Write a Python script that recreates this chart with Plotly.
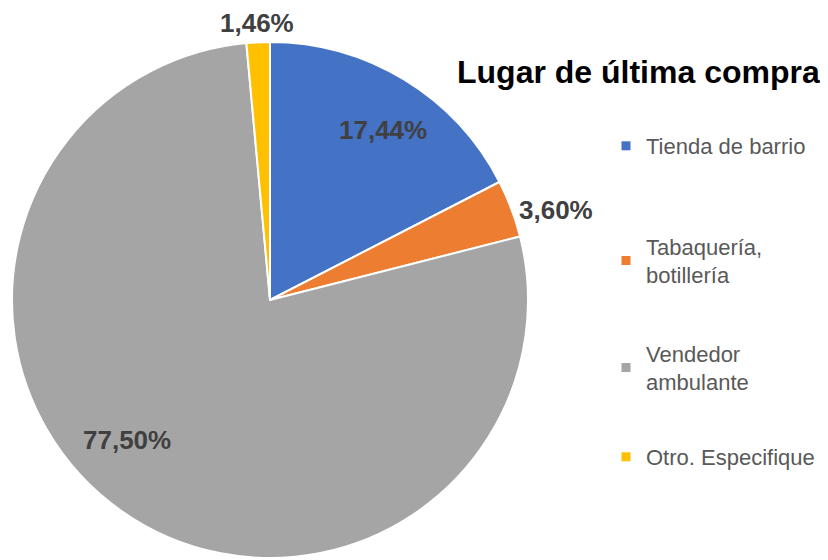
import math
import plotly.graph_objects as go

categories = ["Tienda de barrio", "Tabaquería, botillería", "Vendedor ambulante", "Otro. Especifique"]
legend_labels = ["Tienda de barrio", "Tabaquería,<br>botillería", "Vendedor<br>ambulante", "Otro. Especifique"]
values = [17.44, 3.60, 77.50, 1.46]
colors = ["#4472C4", "#ED7D31", "#A5A5A5", "#FFC000"]

# label placement style: angular nudge (deg) and radius fraction
label_angle_nudge = [2.2, 3.3, 10.4, 0.0]
label_radius_frac = [0.79, 1.16, 0.775, 1.074]

W, H = 828, 560          # browser window
OFF = 8                  # default page body margin
FW, FH = W - OFF, H - OFF  # figure size so it fills the window
CX, CY, R = 270, 300, 258  # pie centre / radius in window pixels


def px2x(px):
    return (px - OFF) / FW


def py2y(py):
    return 1 - (py - OFF) / FH


fig = go.Figure()
fig.add_trace(go.Pie(
    labels=categories,
    values=values,
    sort=False,
    direction="clockwise",
    rotation=0,
    marker=dict(colors=colors, line=dict(color="white", width=2)),
    textinfo="none",
    domain=dict(x=[px2x(CX - R), px2x(CX + R)], y=[py2y(CY + R), py2y(CY - R)]),
    showlegend=False,
    hoverinfo="label+percent",
))

# data labels, placed from each slice's mid-angle
total = sum(values)
cum = 0.0
annotations = []
for v, nudge, rf in zip(values, label_angle_nudge, label_radius_frac):
    mid = (cum + v / 2) / total * 360.0
    cum += v
    ang = math.radians(mid + nudge)
    px = CX + rf * R * math.sin(ang)
    py = CY - rf * R * math.cos(ang)
    annotations.append(dict(
        x=px2x(px), y=py2y(py), xref="paper", yref="paper",
        text=f"{v:.2f}%".replace(".", ","), showarrow=False,
        xanchor="center", yanchor="middle",
        font=dict(family="Liberation Sans", size=26, color="#404040", weight="bold"),
    ))

legend_y = [146, 261, 368, 457]
legend_names = ["legend", "legend2", "legend3", "legend4"]
for name, lab, col in zip(legend_names, legend_labels, colors):
    fig.add_trace(go.Scatter(
        x=[None], y=[None], mode="markers", name=lab,
        marker=dict(symbol="square", size=9, color=col),
        legend=name, showlegend=True,
    ))

legend_font = dict(family="Liberation Sans", size=22, color="#595959")
layout_legends = {}
for name, yy in zip(legend_names, legend_y):
    layout_legends[name] = dict(
        x=px2x(606), xanchor="left", y=py2y(yy), yanchor="middle",
        font=legend_font, bgcolor="rgba(0,0,0,0)", itemsizing="trace",
    )

fig.update_layout(
    width=FW, height=FH,
    margin=dict(l=0, r=0, t=0, b=0, autoexpand=False),
    paper_bgcolor="white", plot_bgcolor="white",
    xaxis=dict(visible=False), yaxis=dict(visible=False),
    title=dict(
        text="<b>Lugar de última compra</b>",
        font=dict(family="Liberation Sans", size=32, color="black"),
        x=px2x(457), xanchor="left", xref="paper",
        y=py2y(72), yanchor="middle", yref="paper",
    ),
    annotations=annotations,
    **layout_legends,
)

fig.write_html("out.html")
